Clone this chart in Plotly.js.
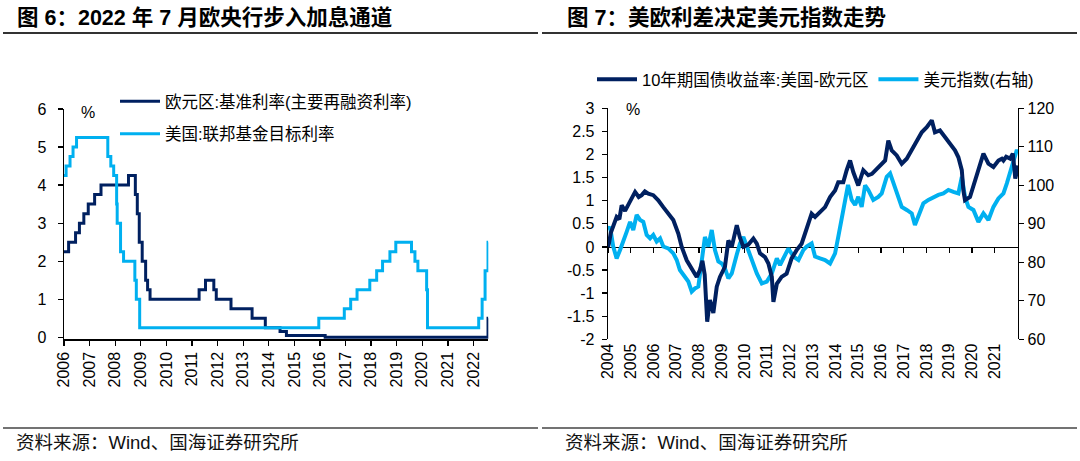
<!DOCTYPE html>
<html>
<head>
<meta charset="utf-8">
<script src="https://cdn.plot.ly/plotly-3.0.1.min.js"></script>
<style>
html,body{margin:0;padding:0;background:#ffffff;}
#chart{width:1080px;height:461px;}
</style>
</head>
<body>
<div id="chart"></div>
<script>
// ---------- Figure 6: policy rates (step series) ----------
const ecbDates = ['2006-01-01','2006-03-08','2006-06-15','2006-08-09','2006-10-11','2006-12-13','2007-03-14','2007-06-13','2008-07-09','2008-10-15','2008-11-12','2008-12-10','2009-01-21','2009-03-11','2009-04-08','2009-05-13','2011-04-13','2011-07-13','2011-11-09','2011-12-14','2012-07-11','2013-05-08','2013-11-13','2014-06-11','2014-09-10','2016-03-16','2022-07-27','2022-07-31'];
const ecbRates = [2.25,2.5,2.75,3.0,3.25,3.5,3.75,4.0,4.25,3.75,3.25,2.5,2.0,1.5,1.25,1.0,1.25,1.5,1.25,1.0,0.75,0.5,0.25,0.15,0.05,0.0,0.5,0.5];

const fedDates = ['2006-01-01','2006-01-31','2006-03-28','2006-05-10','2006-06-29','2007-09-18','2007-10-31','2007-12-11','2008-01-22','2008-01-30','2008-03-18','2008-04-30','2008-10-08','2008-10-29','2008-12-16','2015-12-16','2016-12-14','2017-03-15','2017-06-14','2017-12-13','2018-03-21','2018-06-13','2018-09-26','2018-12-19','2019-07-31','2019-09-18','2019-10-30','2020-03-03','2020-03-15','2022-03-16','2022-05-04','2022-06-15','2022-07-27','2022-07-31'];
const fedRates = [4.25,4.5,4.75,5.0,5.25,4.75,4.5,4.25,3.5,3.0,2.25,2.0,1.5,1.0,0.25,0.5,0.75,1.0,1.25,1.5,1.75,2.0,2.25,2.5,2.25,2.0,1.75,1.25,0.25,0.5,1.0,1.75,2.5,2.5];

const leftYTicks = [0,1,2,3,4,5,6];

// ---------- Figure 7: 10y spread US - Euro area and dollar index ----------
const spreadYears = [2004.00,2004.04,2004.12,2004.23,2004.38,2004.50,2004.60,2004.75,2004.97,2005.19,2005.35,2005.48,2005.62,2005.77,2005.99,2006.21,2006.43,2006.65,2006.87,2007.09,2007.24,2007.46,2007.68,2007.90,2008.04,2008.15,2008.25,2008.36,2008.48,2008.63,2008.78,2008.92,2009.14,2009.29,2009.44,2009.66,2009.80,2009.95,2010.17,2010.39,2010.54,2010.68,2010.90,2011.05,2011.20,2011.27,2011.42,2011.63,2011.85,2012.07,2012.29,2012.51,2012.66,2012.80,2012.95,2013.10,2013.32,2013.54,2013.76,2013.98,2014.12,2014.34,2014.49,2014.64,2014.78,2015.00,2015.22,2015.44,2015.60,2015.74,2015.96,2016.18,2016.32,2016.47,2016.69,2016.91,2017.13,2017.35,2017.57,2017.79,2018.01,2018.23,2018.37,2018.59,2018.81,2019.03,2019.25,2019.40,2019.55,2019.62,2019.69,2019.91,2020.13,2020.35,2020.50,2020.72,2020.94,2021.16,2021.31,2021.38,2021.50,2021.67,2021.79,2021.86,2021.90,2021.96,2022.02];
const spreadValues = [0.0,0.07,0.3,0.43,0.65,0.6,0.9,0.78,1.0,1.19,1.08,1.12,1.2,1.15,1.12,1.01,0.86,0.72,0.58,0.29,0.0,-0.29,-0.47,-0.65,-0.5,-0.3,-0.6,-1.62,-1.15,-1.43,-0.86,-0.65,-0.43,0.14,0.0,0.47,0.2,0.0,0.05,0.18,0.07,-0.14,-0.22,-0.36,-0.65,-1.19,-0.8,-0.65,-0.58,-0.25,-0.07,0.07,0.29,0.5,0.72,0.65,0.75,0.86,1.08,1.22,1.4,1.4,1.66,1.87,1.62,1.33,1.66,1.55,1.58,1.65,1.73,1.87,2.3,2.09,1.98,1.8,1.91,2.09,2.3,2.48,2.59,2.74,2.48,2.52,2.38,2.23,2.09,1.94,1.66,1.22,1.01,1.08,1.44,1.73,2.02,1.8,1.73,1.87,1.91,1.87,1.95,1.91,2.02,1.7,1.48,1.6,1.76];

const dxyYears = [2004.00,2004.09,2004.23,2004.38,2004.53,2004.67,2004.82,2004.97,2005.11,2005.26,2005.41,2005.55,2005.70,2005.85,2005.99,2006.14,2006.29,2006.43,2006.65,2006.87,2007.02,2007.16,2007.31,2007.53,2007.68,2007.82,2007.97,2008.12,2008.26,2008.41,2008.56,2008.70,2008.85,2009.00,2009.14,2009.29,2009.44,2009.66,2009.80,2009.95,2010.17,2010.39,2010.54,2010.76,2010.98,2011.20,2011.42,2011.56,2011.78,2011.93,2012.15,2012.37,2012.59,2012.73,2012.95,2013.10,2013.32,2013.54,2013.76,2013.98,2014.12,2014.27,2014.40,2014.55,2014.71,2014.86,2015.00,2015.15,2015.30,2015.44,2015.66,2015.88,2016.03,2016.25,2016.40,2016.54,2016.76,2016.91,2017.13,2017.35,2017.49,2017.64,2017.86,2018.08,2018.30,2018.52,2018.74,2018.96,2019.18,2019.40,2019.55,2019.69,2019.84,2020.06,2020.28,2020.50,2020.72,2020.94,2021.16,2021.38,2021.53,2021.75,2021.97,2022.02];
const dxyValues = [88.5,89.2,84.1,81.0,83.2,85.8,87.9,90.5,88.4,92.3,91.0,90.5,87.1,86.2,87.1,85.4,86.2,84.1,83.6,82.3,80.6,78.0,76.7,75.0,72.4,73.2,73.7,80.6,86.6,84.1,88.4,83.2,80.2,79.7,78.4,75.8,77.1,82.0,84.9,86.6,83.2,79.7,77.1,74.5,75.0,77.1,81.0,79.3,81.9,83.6,81.5,80.6,83.2,84.1,84.9,81.5,81.0,80.6,79.7,82.3,86.6,91.0,95.3,100.1,96.2,94.9,97.0,94.4,100.0,98.8,96.2,97.0,97.9,102.2,103.1,100.5,97.0,94.4,93.6,92.7,89.7,91.8,95.3,96.2,97.0,97.5,97.9,98.8,98.3,97.9,102.2,97.0,94.4,93.6,90.5,92.7,91.0,94.4,96.6,97.9,100.5,104.8,109.2,108.4];

const rightYearTicks = [2004,2005,2006,2007,2008,2009,2010,2011,2012,2013,2014,2015,2016,2017,2018,2019,2020,2021];
const rightYearLabels = ['2004','2005','2006','2007','2008','2009','2010','2011','2012','2013','2014','2015','2016','2017','2018','2019','2020','2021'];
const spreadTickVals = [-2,-1.5,-1,-0.5,0,0.5,1,1.5,2,2.5,3];
const spreadTickText = ['-2','-1.5','-1','-0.5','0','0.5','1','1.5','2','2.5','3'];
const dxyTickVals = [60,70,80,90,100,110,120];

// ---------- styling ----------
const NAVY = '#002060';
const SKY = '#00B0F0';
const FONT = '"Liberation Sans", Arial, "Noto Sans CJK SC", sans-serif';
const W = 1080, H = 461;
const px = v => v / W;
const py = v => 1 - v / H;

const traces = [
  {x: ecbDates, y: ecbRates, type: 'scatter', mode: 'lines', line: {shape: 'hv', color: NAVY, width: 3},
   name: '欧元区:基准利率(主要再融资利率)', xaxis: 'x', yaxis: 'y', legend: 'legend', legendgroup: 'a', hoverinfo: 'skip'},
  {x: fedDates, y: fedRates, type: 'scatter', mode: 'lines', line: {shape: 'hv', color: SKY, width: 3},
   name: '美国:联邦基金目标利率', xaxis: 'x', yaxis: 'y', legend: 'legend', legendgroup: 'b', hoverinfo: 'skip'},
  {x: spreadYears, y: spreadValues, type: 'scatter', mode: 'lines', line: {color: NAVY, width: 4},
   name: '10年期国债收益率:美国-欧元区', xaxis: 'x2', yaxis: 'y3', legend: 'legend2', hoverinfo: 'skip'},
  {x: dxyYears, y: dxyValues, type: 'scatter', mode: 'lines', line: {color: SKY, width: 4},
   name: '美元指数(右轴)', xaxis: 'x2', yaxis: 'y2', legend: 'legend2', hoverinfo: 'skip'},
  {x: [2010], y: [null], type: 'scatter', mode: 'lines', xaxis: 'x3', yaxis: 'y2', showlegend: false, hoverinfo: 'skip'}
];

const axisCommon = {
  showgrid: false, zeroline: false, showline: true, linecolor: '#000', linewidth: 1.3,
  ticks: 'outside', ticklen: 5, tickwidth: 1.3, tickcolor: '#000',
  tickfont: {family: FONT, size: 16, color: '#000'}, fixedrange: true
};

const leftBottom = 337.3 + 1.9;
const layout = {
  width: W, height: H,
  margin: {l: 0, r: 0, t: 0, b: 0, pad: 0},
  paper_bgcolor: '#ffffff', plot_bgcolor: 'rgba(0,0,0,0)',
  font: {family: FONT, size: 16, color: '#000'},
  showlegend: true,
  xaxis: Object.assign({}, axisCommon, {
    domain: [px(64), px(488.3)], anchor: 'y', type: 'date',
    range: ['2006-01-01', '2022-07-31'], tick0: '2006-01-01', dtick: 'M12', tickformat: '%Y', tickangle: -90
  }),
  yaxis: Object.assign({}, axisCommon, {
    domain: [py(leftBottom), py(109)], anchor: 'x', range: [-0.05, 6], tickvals: leftYTicks, ticklabelstandoff: 8
  }),
  xaxis2: Object.assign({}, axisCommon, {
    domain: [px(608), px(1018)], anchor: 'y2', range: [2004, 2022.02],
    tickvals: rightYearTicks, ticktext: rightYearLabels, tickangle: -90, ticks: '', showline: false
  }),
  xaxis3: Object.assign({}, axisCommon, {
    overlaying: 'x2', anchor: 'free', position: py(246.7), range: [2004, 2022.02],
    tickvals: rightYearTicks, showticklabels: false, layer: 'below traces'
  }),
  yaxis2: Object.assign({}, axisCommon, {
    domain: [py(339.3), py(108.3)], anchor: 'x2', side: 'right', range: [60, 120], tickvals: dxyTickVals
  }),
  yaxis3: Object.assign({}, axisCommon, {
    overlaying: 'y2', anchor: 'x2', side: 'left', range: [-2, 3],
    tickvals: spreadTickVals, ticktext: spreadTickText, ticklabelstandoff: 4
  }),
  legend: {
    x: px(115), y: py(84), xanchor: 'left', yanchor: 'top', orientation: 'v',
    font: {family: FONT, size: 16.5, color: '#000'}, bgcolor: 'rgba(0,0,0,0)',
    traceorder: 'grouped', tracegroupgap: 8, itemwidth: 40
  },
  legend2: {
    x: px(592), y: py(62), xanchor: 'left', yanchor: 'top', orientation: 'h',
    font: {family: FONT, size: 16.5, color: '#000'}, bgcolor: 'rgba(0,0,0,0)', itemwidth: 40
  },
  annotations: [
    {text: '<b>图 6：2022 年 7 月欧央行步入加息通道</b>', x: px(15), y: py(17), xref: 'paper', yref: 'paper',
     xanchor: 'left', yanchor: 'middle', showarrow: false, font: {family: FONT, size: 21.5, color: '#000'}},
    {text: '<b>图 7：美欧利差决定美元指数走势</b>', x: px(565), y: py(17), xref: 'paper', yref: 'paper',
     xanchor: 'left', yanchor: 'middle', showarrow: false, font: {family: FONT, size: 21.5, color: '#000'}},
    {text: '%', x: px(88), y: py(112), xref: 'paper', yref: 'paper', xanchor: 'center', yanchor: 'middle',
     showarrow: false, font: {family: FONT, size: 16, color: '#000'}},
    {text: '%', x: px(633), y: py(110), xref: 'paper', yref: 'paper', xanchor: 'center', yanchor: 'middle',
     showarrow: false, font: {family: FONT, size: 16, color: '#000'}},
    {text: '资料来源：Wind、国海证券研究所', x: px(14), y: py(442), xref: 'paper', yref: 'paper',
     xanchor: 'left', yanchor: 'middle', showarrow: false, font: {family: FONT, size: 18.5, color: '#111'}},
    {text: '资料来源：Wind、国海证券研究所', x: px(563), y: py(442), xref: 'paper', yref: 'paper',
     xanchor: 'left', yanchor: 'middle', showarrow: false, font: {family: FONT, size: 18.5, color: '#111'}}
  ],
  shapes: [
    {type: 'line', xref: 'paper', yref: 'paper', x0: px(3), x1: px(538), y0: py(33), y1: py(33), line: {color: '#333', width: 2}},
    {type: 'line', xref: 'paper', yref: 'paper', x0: px(542), x1: px(1077), y0: py(33), y1: py(33), line: {color: '#333', width: 2}},
    {type: 'line', xref: 'paper', yref: 'paper', x0: px(3), x1: px(538), y0: py(428), y1: py(428), line: {color: '#444', width: 1.5}},
    {type: 'line', xref: 'paper', yref: 'paper', x0: px(542), x1: px(1077), y0: py(428), y1: py(428), line: {color: '#444', width: 1.5}}
  ]
};

Plotly.newPlot('chart', traces, layout, {displayModeBar: false, staticPlot: true});
</script>
</body>
</html>
